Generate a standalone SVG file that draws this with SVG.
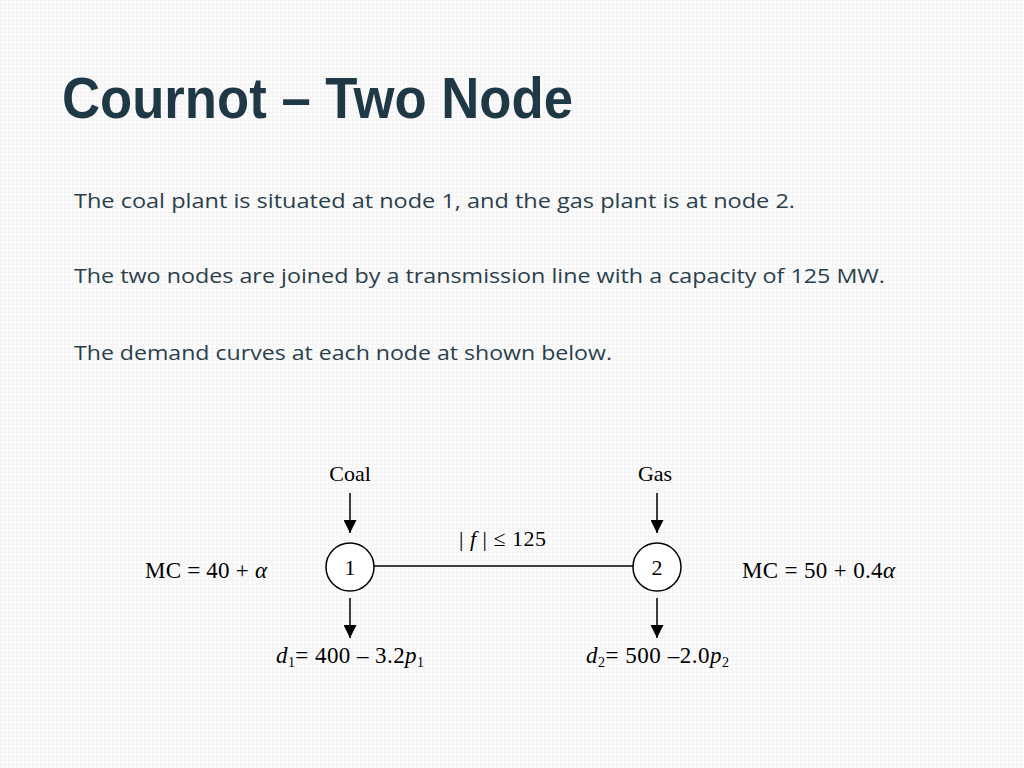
<svg xmlns="http://www.w3.org/2000/svg" width="1024" height="768" viewBox="0 0 1024 768">
<defs>
<pattern id="grid" width="4" height="4" patternUnits="userSpaceOnUse">
<rect width="4" height="4" fill="#fbfbfb"/>
<path d="M0 0.5H4M0.5 0V4" stroke="#f4f4f4" stroke-width="1"/>
</pattern>
<marker id="arr" viewBox="0 0 10 10" refX="10" refY="5" markerWidth="13" markerHeight="13" markerUnits="userSpaceOnUse" orient="auto">
<path d="M0 0L10 5L0 10Z" fill="#000"/>
</marker>
<style>
.title{font-family:"Liberation Sans Narrow","Liberation Sans",Arial,sans-serif;font-weight:bold;font-size:58px;fill:#1f3846}
.body{font-family:"Open Sans","Liberation Sans",sans-serif;font-size:20px;fill:#2b3f4b}
.m{font-family:"Liberation Serif","Times New Roman",serif;font-size:22px;fill:#000}
.e{font-size:23px}
.i{font-style:italic}
.s{font-size:14px}
.line{stroke:#000;stroke-width:1.5;fill:none}
.node{fill:#fff;stroke:#000;stroke-width:1.5}
</style>
</defs>
<rect width="1024" height="768" fill="url(#grid)"/>
<text class="title" x="62" y="118" textLength="511" lengthAdjust="spacingAndGlyphs">Cournot – Two Node</text>
<text class="body" x="74" y="208" textLength="721" lengthAdjust="spacingAndGlyphs">The coal plant is situated at node 1, and the gas plant is at node 2.</text>
<text class="body" x="74" y="283" textLength="811" lengthAdjust="spacingAndGlyphs">The two nodes are joined by a transmission line with a capacity of 125 MW.</text>
<text class="body" x="74" y="360" textLength="538" lengthAdjust="spacingAndGlyphs">The demand curves at each node at shown below.</text>

<g id="connectors">
<line class="line" x1="374" y1="566" x2="633" y2="566"/>
<line class="line" x1="350" y1="493" x2="350" y2="533" marker-end="url(#arr)"/>
<line class="line" x1="350" y1="598" x2="350" y2="638" marker-end="url(#arr)"/>
<line class="line" x1="657" y1="493" x2="657" y2="533" marker-end="url(#arr)"/>
<line class="line" x1="657" y1="598" x2="657" y2="638" marker-end="url(#arr)"/>
<text class="m" x="459" y="546" textLength="87" lengthAdjust="spacing"><tspan fill="#000">| </tspan><tspan class="i">f</tspan><tspan> | ≤ 125</tspan></text>
</g>

<g id="node1">
<circle class="node" cx="350" cy="567" r="24"/>
<text class="m" x="350" y="575" text-anchor="middle">1</text>
</g>
<g id="node2">
<circle class="node" cx="657" cy="567" r="24"/>
<text class="m" x="657" y="575" text-anchor="middle">2</text>
</g>
<g id="coal">
<text class="m" x="350" y="481" text-anchor="middle">Coal</text>
</g>
<g id="gas">
<text class="m" x="655" y="481" text-anchor="middle">Gas</text>
</g>
<g id="mc1">
<text class="m e" x="145" y="578" textLength="122" lengthAdjust="spacing">MC =  40 + <tspan class="i">α</tspan></text>
</g>
<g id="mc2">
<text class="m e" x="742" y="578" textLength="153" lengthAdjust="spacing">MC =  50 + 0.4<tspan class="i">α</tspan></text>
</g>
<g id="d1">
<text class="m e" x="276" y="663" textLength="148" lengthAdjust="spacing"><tspan class="i">d</tspan><tspan class="s" dy="4">1</tspan><tspan dy="-4">=  400 – 3.2</tspan><tspan class="i">p</tspan><tspan class="s" dy="4">1</tspan></text>
</g>
<g id="d2">
<text class="m e" x="586" y="663" textLength="143" lengthAdjust="spacing"><tspan class="i">d</tspan><tspan class="s" dy="4">2</tspan><tspan dy="-4">=  500 –2.0</tspan><tspan class="i">p</tspan><tspan class="s" dy="4">2</tspan></text>
</g>
</svg>
